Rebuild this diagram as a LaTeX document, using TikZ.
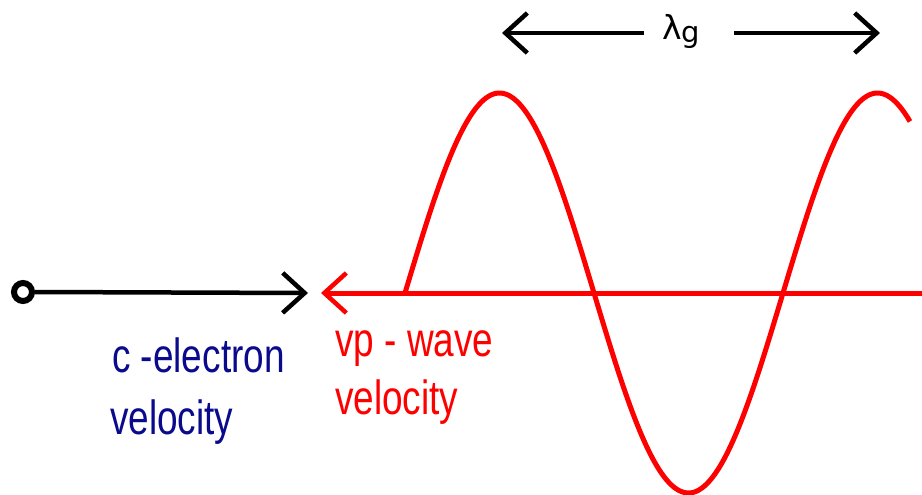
\documentclass[tikz,border=0pt]{standalone}
\usepackage{fontspec}
\usetikzlibrary{arrows.meta}
\newfontfamily\lblfont[FakeStretch=0.77]{Liberation Sans}
\newfontfamily\greekfont{DejaVu Sans}
\definecolor{navyblue}{RGB}{10,10,140}
\definecolor{wavered}{RGB}{255,0,0}
\tikzset{
  openhead/.style={-{Straight Barb[length=22pt,width=40pt,line width=4.5pt]}},
  blackline/.style={black,line width=4.5pt},
  redline/.style={wavered,line width=5pt},
  lbl/.style={font=\lblfont\fontsize{48}{52}\selectfont,inner sep=0pt,anchor=base west},
}
\begin{document}
\begin{tikzpicture}[x=1pt,y=-1pt]
\useasboundingbox (0,0) rectangle (922,495);
% left black arrow
\node[draw,circle,line width=6pt,minimum size=18pt,inner sep=0pt] (src) at (23,292) {};
\coordinate (btip) at (308,293);
\draw[blackline,openhead] (src.east) -- (btip);
% red axis arrow
\coordinate (rend) at (922,293);
\coordinate (rtip) at (321,293);
\draw[redline,openhead] (rend) -- (rtip);
% sine wave
\draw[redline,line join=round] plot[domain=405:910,samples=200,smooth] (\x,{293-200*sin((\x-405)*0.952381)});
% lambda_g arrows
\node[inner sep=0pt,anchor=base west] (lam) at (662,40) {\greekfont\fontsize{33}{36}\selectfont λ\raisebox{-3pt}{\fontsize{29}{32}\selectfont g}};
\coordinate (lgl) at (502,33);
\coordinate (lgr) at (880,33);
\coordinate (lgla) at (644,33);
\coordinate (lgra) at (734,33);
\draw[blackline,openhead] (lgla) -- (lgl);
\draw[blackline,openhead] (lgra) -- (lgr);
% labels
\node[lbl,text=navyblue] (c1) at (112,372) {c -electron};
\node[lbl,text=navyblue] (c2) at (110,434) {velocity};
\node[lbl,text=wavered] (v1) at (335,356) {vp - wave};
\node[lbl,text=wavered] (v2) at (335,414) {velocity};
\end{tikzpicture}
\end{document}
